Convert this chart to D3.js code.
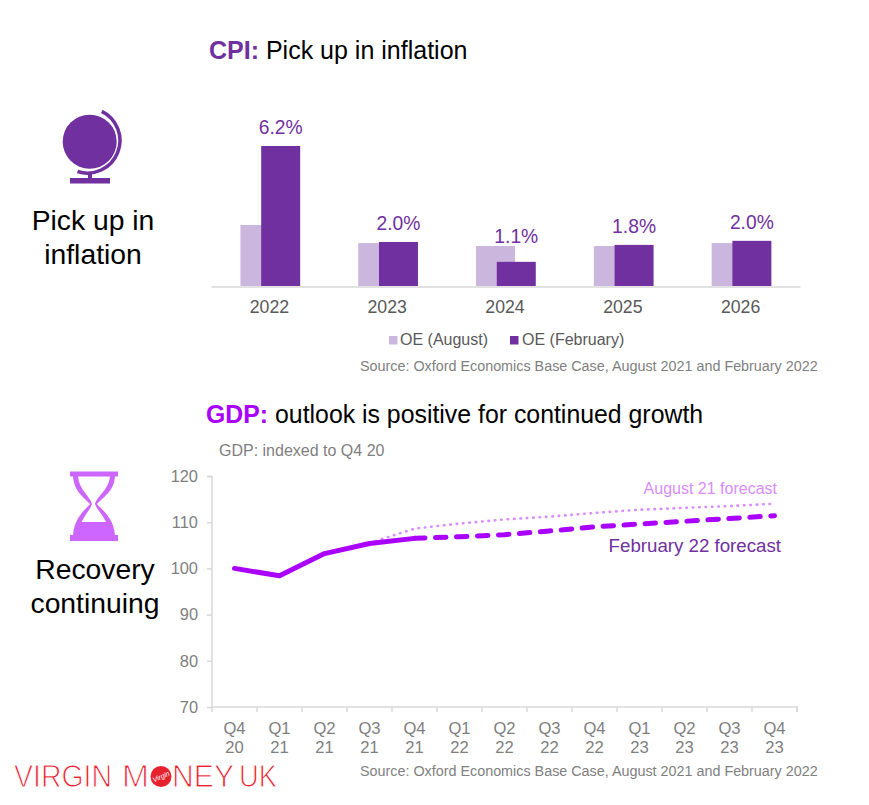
<!DOCTYPE html>
<html><head><meta charset="utf-8">
<script src="https://cdn.jsdelivr.net/npm/d3@7"></script>
<style>
html,body{margin:0;padding:0;background:#fff}
svg{display:block}
text{font-family:"Liberation Sans",Arial,sans-serif}
</style></head><body>
<div id="chart"></div>
<script>
// ---- CPI data ----
const cpiYears = ["2022","2023","2024","2025","2026"];
const cpiAugust = [2.7,1.9,1.77,1.77,1.9];
const cpiFebruary = [6.2,1.95,1.07,1.82,2.0];
const cpiLabels = ["6.2%","2.0%","1.1%","1.8%","2.0%"];
const cpiLegend = ["OE (August)","OE (February)"];
// ---- GDP data ----
const gdpQuarters = ["Q4 20","Q1 21","Q2 21","Q3 21","Q4 21","Q1 22","Q2 22","Q3 22","Q4 22","Q1 23","Q2 23","Q3 23","Q4 23"];
const gdpActual = [100,98.4,103.2,105.4,106.5,null,null,null,null,null,null,null,null];
const gdpFeb22 = [null,null,null,null,106.5,106.85,107.3,108.1,109,109.6,110.2,110.8,111.4];
const gdpAug21 = [null,null,null,105.5,108.6,109.7,110.6,111.2,112,112.7,113.1,113.5,114];
const gdpTicks = [70,80,90,100,110,120];

const DARK="#7030A0", LIGHT="#CBB7DD", VIVID="#AA00FF", PALE="#D98CFF", HOUR="#CC66FF", AXIS="#D9D9D9";
const W=869,H=805;
const svg=d3.select("#chart").append("svg").attr("width",W).attr("height",H).attr("viewBox",`0 0 ${W} ${H}`);

function txt(x,y,s,size,fill,anchor,weight){
  return svg.append("text").attr("x",x).attr("y",y).attr("font-size",size).attr("fill",fill)
    .attr("text-anchor",anchor||"start").attr("font-weight",weight||"normal").text(s);
}
function title(x,y,lead,rest,color,size){
  const t=svg.append("text").attr("x",x).attr("y",y).attr("font-size",size);
  t.append("tspan").attr("font-weight","bold").attr("fill",color).text(lead);
  t.append("tspan").attr("fill","#000").text(" "+rest);
}

// Titles and side labels
title(209,59,"CPI:","Pick up in inflation",DARK,25);
title(206,423,"GDP:","outlook is positive for continued growth",VIVID,24.85);
txt(93,230,"Pick up in",28.3,"#000","middle");
txt(93,264,"inflation",28.3,"#000","middle");
txt(95,579,"Recovery",28.3,"#000","middle");
txt(95,613,"continuing",28.3,"#000","middle");

// Globe icon
const g=svg.append("g");
g.append("circle").attr("cx",89.7).attr("cy",141.7).attr("r",27).attr("fill",DARK);
g.append("path").attr("d","M101.8 111.4 A32.5 32.5 0 0 1 77.5 171.5").attr("fill","none").attr("stroke",DARK).attr("stroke-width",3.5);
g.append("rect").attr("x",88).attr("y",172).attr("width",4).attr("height",7).attr("fill",DARK);
g.append("rect").attr("x",70).attr("y",178).attr("width",40).attr("height",5.5).attr("fill",DARK);

// Hourglass icon
const h=svg.append("g");
h.append("rect").attr("x",70).attr("y",471.5).attr("width",48).attr("height",5).attr("fill",HOUR);
h.append("rect").attr("x",70).attr("y",535).attr("width",48).attr("height",6).attr("fill",HOUR);
h.append("path").attr("fill-rule","evenodd").attr("fill",HOUR)
 .attr("d","M73 476 C74 492 84 497 90 504 C84 511 74 518 73 536 L115 536 C114 518 103 511 97 504 C103 497 114 492 115 476 Z "+
            "M78 476 C79 490 90 496 92 504 C90 510 85 515 81.5 522 L106 522 C103 515 97 510 95 504 C97 496 109 490 110 476 Z");

// ---- CPI bar chart ----
const xCpi=d3.scaleBand().domain(cpiYears).range([211,800]);
const yCpi=d3.scaleLinear().domain([0,6.2]).range([286,146]);
const barW=xCpi.bandwidth()*0.331;
const lightOff=xCpi.bandwidth()*0.25, darkOff=xCpi.bandwidth()*0.426;
svg.append("g").selectAll("rect").data(cpiYears).join("rect")
  .attr("x",d=>xCpi(d)+lightOff).attr("width",barW)
  .attr("y",(d,i)=>yCpi(cpiAugust[i])).attr("height",(d,i)=>yCpi(0)-yCpi(cpiAugust[i])).attr("fill",LIGHT);
svg.append("g").selectAll("rect").data(cpiYears).join("rect")
  .attr("x",d=>xCpi(d)+darkOff).attr("width",barW)
  .attr("y",(d,i)=>yCpi(cpiFebruary[i])).attr("height",(d,i)=>yCpi(0)-yCpi(cpiFebruary[i])).attr("fill",DARK);
const axC=svg.append("g").attr("transform","translate(0,286.5)").call(d3.axisBottom(xCpi).tickSize(0));
axC.select(".domain").attr("stroke",AXIS).attr("stroke-width",1.5);
axC.selectAll("text").attr("font-size",17.7).attr("fill","#595959").attr("font-family",'"Liberation Sans",Arial,sans-serif')
   .attr("y",26.5).attr("dy",0).attr("dx",-0.5);
svg.append("g").selectAll("text").data(cpiYears).join("text")
  .attr("x",d=>xCpi(d)+darkOff+barW/2)
  .attr("y",(d,i)=>cpiAugust[i]>cpiFebruary[i]?yCpi(cpiAugust[i])-3:yCpi(cpiFebruary[i])-12)
  .attr("text-anchor","middle").attr("font-size",19.3).attr("fill",DARK).text((d,i)=>cpiLabels[i]);

// Legend
svg.append("rect").attr("x",389).attr("y",336).attr("width",8.5).attr("height",8.5).attr("fill",LIGHT);
txt(400,345,cpiLegend[0],16,"#595959");
svg.append("rect").attr("x",510).attr("y",336).attr("width",8.5).attr("height",8.5).attr("fill",DARK);
txt(522,345,cpiLegend[1],16,"#595959");
const src="Source: Oxford Economics Base Case, August 2021 and February 2022";
txt(360,371,src,14.35,"#7F7F7F");
txt(360,776,src,14.35,"#7F7F7F");
txt(219,456,"GDP: indexed to Q4 20",16,"#7F7F7F");

// ---- GDP line chart ----
const xGdp=d3.scaleBand().domain(gdpQuarters).range([212,797]);
const yGdp=d3.scaleLinear().domain([70,120]).range([707,476]);
const ax=svg.append("g").attr("transform","translate(212,0)").call(d3.axisLeft(yGdp).tickValues(gdpTicks).tickSize(5).tickPadding(9));
const bx=svg.append("g").attr("transform","translate(0,707)").call(d3.axisBottom(xGdp).tickSize(0));
[ax,bx].forEach(a=>{a.select(".domain").attr("stroke",AXIS).attr("stroke-width",1.5);a.selectAll("line").attr("stroke",AXIS).attr("stroke-width",1.5);});
ax.select(".domain").attr("d","M-5,476.5H0V707");
ax.selectAll("text").attr("font-size",16.4).attr("fill","#7F7F7F").attr("font-family",'"Liberation Sans",Arial,sans-serif');
bx.select(".domain").attr("d","M212,0V5V0H797V5");
bx.selectAll(".tick").remove();
svg.append("g").selectAll("line").data(gdpQuarters).join("line")
  .attr("x1",d=>xGdp(d)+xGdp.bandwidth()).attr("x2",d=>xGdp(d)+xGdp.bandwidth()).attr("y1",707).attr("y2",712)
  .attr("stroke",AXIS).attr("stroke-width",1.5);
const xl=svg.append("g").selectAll("text").data(gdpQuarters).join("text")
  .attr("text-anchor","middle").attr("font-size",16.6).attr("fill","#7F7F7F");
xl.append("tspan").attr("x",d=>xGdp(d)+xGdp.bandwidth()/2).attr("y",734).text(d=>d.split(" ")[0]);
xl.append("tspan").attr("x",d=>xGdp(d)+xGdp.bandwidth()/2).attr("y",753).text(d=>d.split(" ")[1]);

const line=d3.line().defined(d=>d!==null).x((d,i)=>xGdp(gdpQuarters[i])+xGdp.bandwidth()/2).y(d=>yGdp(d));
svg.append("path").attr("d",line(gdpAug21)).attr("fill","none").attr("stroke",PALE).attr("stroke-width",2.6)
  .attr("stroke-dasharray","0.5 5.9").attr("stroke-linecap","round");
svg.append("path").attr("d",line(gdpFeb22)).attr("fill","none").attr("stroke",VIVID).attr("stroke-width",5)
  .attr("stroke-dasharray","10.5 10.5").attr("stroke-linecap","round");
svg.append("path").attr("d",line(gdpActual)).attr("fill","none").attr("stroke",VIVID).attr("stroke-width",5)
  .attr("stroke-linecap","round").attr("stroke-linejoin","round");
txt(777,494,"August 21 forecast",16,PALE,"end");
txt(781,552,"February 22 forecast",18.7,DARK,"end");

// Logo
const RED="#E8212E";
function logo(x,w,s){
  svg.append("text").attr("x",x).attr("y",787).attr("font-size",31).attr("font-family","'Liberation Sans',sans-serif")
    .attr("fill",RED).attr("stroke","#fff").attr("stroke-width",1)
    .attr("textLength",w).attr("lengthAdjust","spacingAndGlyphs").text(s);
}
logo(14,98,"VIRGIN");
logo(122,27,"M");
svg.append("circle").attr("cx",161).attr("cy",776.5).attr("r",10.5).attr("fill",RED);
svg.append("text").attr("x",161).attr("y",779).attr("text-anchor","middle").attr("font-size",7).attr("font-style","italic")
  .attr("fill","#fff").attr("transform","rotate(-25 161 776.5)").text("Virgin");
logo(172,62,"NEY");
logo(239,38,"UK");
</script>
</body></html>
